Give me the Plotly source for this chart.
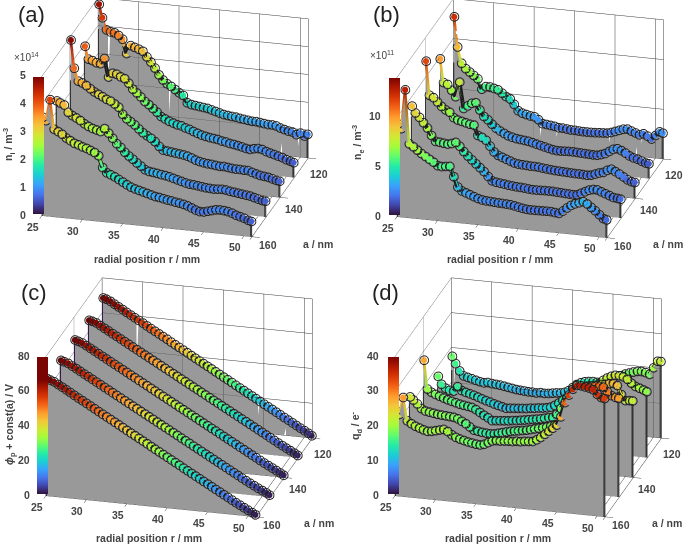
import math
import plotly.colors
import plotly.graph_objects as go

r_mm = [25.1, 25.5, 26.0,
        26.5, 27, 27.5, 28, 28.5, 29, 29.5, 30, 30.5, 31,
        31.5, 32, 32.5, 33, 33.5, 34, 34.5, 35, 35.5, 36,
        36.5, 37, 37.5, 38, 38.5, 39, 39.5, 40, 40.5, 41,
        41.5, 42, 42.5, 43, 43.5, 44, 44.5, 45, 45.5, 46,
        46.5, 47, 47.5, 48, 48.5, 49, 49.5, 50, 50.5, 50.9]
a_nm = [120, 130, 140, 150, 160]

ni_120 = [4.77, 4.30, 3.88,
          3.82, 3.80, 3.72, 3.60, 3.10, 3.40, 3.35, 3.30, 3.24, 3.05,
          2.88, 2.68, 2.45, 2.28, 2.16, 2.08, 1.98, 1.88, 1.80, 1.55,
          1.50, 1.48, 1.46, 1.44, 1.42, 1.38, 1.34, 1.30, 1.26, 1.24,
          1.22, 1.21, 1.18, 1.16, 1.14, 1.12, 1.12, 1.10, 1.08, 1.06,
          1.06, 1.04, 0.98, 0.94, 0.90, 0.88, 0.80, 0.87, 0.78, 0.85]
ni_130 = [3.97, 3.52, 3.48,
          3.42, 3.40, 3.60, 2.95, 3.10, 3.08, 3.00, 2.95, 2.80, 2.60,
          2.48, 2.35, 2.20, 2.10, 1.98, 1.86, 1.72, 1.65, 1.58, 1.53,
          1.48, 1.46, 1.40, 1.36, 1.30, 1.25, 1.20, 1.17, 1.14, 1.12,
          1.10, 1.06, 1.04, 1.00, 0.98, 0.95, 0.92, 0.88, 0.86, 0.90,
          0.92, 0.90, 0.84, 0.80, 0.76, 0.72, 0.68, 0.62, 0.58, 0.54]
ni_140 = [4.90, 3.90, 3.45,
          3.40, 3.32, 3.22, 3.12, 3.05, 2.98, 2.90, 2.85, 2.76, 2.66,
          2.42, 2.27, 2.18, 2.08, 1.95, 1.83, 1.74, 1.66, 1.55, 1.40,
          1.28, 1.26, 1.24, 1.22, 1.20, 1.18, 1.15, 1.10, 1.04, 1.00,
          0.97, 0.95, 0.94, 0.92, 0.90, 0.91, 0.89, 0.87, 0.86, 0.86,
          0.85, 0.85, 0.80, 0.76, 0.72, 0.70, 0.68, 0.64, 0.60, 0.58]
ni_150 = [3.42, 3.36, 3.30,
          3.05, 2.95, 2.88, 2.80, 2.70, 2.62, 2.56, 2.52, 2.48, 2.60,
          2.45, 2.28, 2.10, 1.98, 1.82, 1.70, 1.60, 1.48, 1.38, 1.27,
          1.22, 1.20, 1.18, 1.15, 1.13, 1.10, 1.06, 1.02, 0.98, 0.94,
          0.91, 0.90, 0.88, 0.86, 0.84, 0.83, 0.82, 0.83, 0.84, 0.83,
          0.80, 0.78, 0.76, 0.74, 0.72, 0.70, 0.66, 0.62, 0.58, 0.57]
ni_160 = [3.54, 3.43, 4.20,
          3.15, 3.08, 3.00, 2.88, 2.80, 2.72, 2.68, 2.62, 2.58, 2.52,
          2.46, 2.36, 1.95, 1.78, 1.72, 1.66, 1.58, 1.50, 1.42, 1.35,
          1.30, 1.26, 1.22, 1.18, 1.14, 1.10, 1.08, 1.05, 1.02, 1.00,
          0.97, 0.95, 0.92, 0.88, 0.82, 0.76, 0.72, 0.72, 0.76, 0.80,
          0.84, 0.85, 0.84, 0.82, 0.78, 0.72, 0.68, 0.64, 0.58, 0.55]

ne_120 = [12.2, 9.2, 7.6,
          7.1, 6.8, 6.5, 6.2, 5.2, 5.5, 5.5, 5.4, 5.3, 5.0,
          4.7, 4.5, 4.0, 3.4, 3.2, 3.1, 3.0, 2.95, 2.7, 2.35,
          2.3, 2.25, 2.2, 2.1, 2.1, 2.05, 2.0, 2.0, 1.97, 1.95,
          1.95, 1.95, 1.97, 2.0, 2.02, 2.05, 2.15, 2.3, 2.45, 2.6,
          2.65, 2.5, 2.35, 2.2, 2.35, 2.15, 1.9, 2.3, 2.7, 2.6]
ne_130 = [9.95, 7.6, 7.45,
          6.9, 6.3, 7.8, 5.2, 5.5, 5.8, 5.9, 5.2, 4.6, 4.3,
          3.9, 3.55, 3.3, 3.1, 2.9, 2.8, 2.7, 2.65, 2.6, 2.55,
          2.45, 2.35, 2.25, 2.15, 2.05, 1.95, 1.9, 1.9, 1.92, 1.94,
          1.94, 1.92, 1.9, 1.88, 1.86, 1.84, 1.84, 1.95, 2.1, 2.35,
          2.6, 2.7, 2.55, 2.35, 2.1, 1.95, 1.85, 1.7, 1.55, 1.5]
ne_140 = [11.7, 8.3, 8.1,
          7.7, 7.3, 7.0, 6.8, 6.3, 6.1, 6.0, 5.9, 5.8, 5.75,
          4.75, 4.6, 4.35, 3.8, 3.25, 2.95, 2.8, 2.65, 2.5, 2.35,
          2.28, 2.25, 2.23, 2.2, 2.2, 2.18, 2.12, 2.08, 2.04, 2.0,
          1.98, 1.96, 1.94, 1.92, 1.9, 1.9, 1.88, 1.85, 1.9, 2.05,
          2.2, 2.3, 2.55, 2.7, 2.5, 2.3, 2.05, 1.8, 1.65, 1.6]
ne_150 = [9.16, 8.5, 8.1,
          7.6, 7.1, 6.4, 5.85, 5.8, 5.75, 5.7, 5.8, 5.95, 5.6,
          5.1, 4.7, 4.35, 4.0, 3.65, 3.3, 2.85, 2.45, 2.35, 2.3,
          2.25, 2.18, 2.14, 2.1, 2.08, 2.05, 2.0, 1.97, 1.97, 1.98,
          2.0, 2.0, 2.0, 1.97, 1.95, 1.92, 1.9, 1.87, 1.9, 2.1,
          2.3, 2.5, 2.6, 2.6, 2.45, 2.3, 2.15, 2.0, 1.95, 1.9]
ne_160 = [9.35, 8.9, 12.85,
          7.45, 7.2, 6.9, 6.6, 6.35, 6.1, 5.85, 5.55, 5.5, 5.55,
          5.6, 4.6, 3.6, 3.25, 3.1, 2.95, 2.8, 2.65, 2.55, 2.5,
          2.48, 2.45, 2.42, 2.4, 2.38, 2.35, 2.28, 2.2, 2.12, 2.06,
          2.04, 2.04, 2.05, 2.06, 2.07, 2.07, 2.02, 1.97, 2.25, 2.6,
          2.9, 3.1, 3.25, 3.4, 3.2, 2.9, 2.6, 2.25, 1.9, 1.8]

phi_120 = [68.5, 68.0, 67.0,
           65.6, 64.3, 63.0, 61.6, 60.3, 59.0, 57.7, 56.4, 55.0, 53.7,
           52.4, 51.1, 49.8, 48.5, 47.1, 45.8, 44.5, 43.2, 41.9, 40.5,
           39.2, 37.9, 36.6, 35.3, 34.0, 32.6, 31.3, 30.0, 28.7, 27.4,
           26.0, 24.7, 23.4, 22.1, 20.8, 19.5, 18.1, 16.8, 15.5, 14.2,
           12.9, 11.6, 10.3, 9.0, 7.7, 6.4, 5.1, 3.9, 2.6, 1.4]
phi_130 = [67.0, 66.6, 65.9,
           64.6, 63.3, 62.0, 60.7, 59.4, 58.1, 56.8, 55.5, 54.2, 52.9,
           51.6, 50.3, 49.0, 47.7, 46.4, 45.1, 43.8, 42.5, 41.2, 39.9,
           38.6, 37.3, 36.0, 34.7, 33.4, 32.1, 30.8, 29.5, 28.2, 26.9,
           25.6, 24.3, 23.0, 21.7, 20.4, 19.1, 17.8, 16.5, 15.2, 13.9,
           12.6, 11.3, 10.0, 8.7, 7.4, 6.1, 4.9, 3.7, 2.5, 1.4]
phi_140 = [67.0, 66.4, 65.7,
           64.4, 63.1, 61.8, 60.5, 59.2, 57.9, 56.6, 55.3, 54.0, 52.7,
           51.4, 50.1, 48.8, 47.5, 46.2, 44.9, 43.6, 42.3, 41.0, 39.7,
           38.4, 37.1, 35.8, 34.5, 33.2, 31.9, 30.6, 29.3, 28.0, 26.7,
           25.4, 24.1, 22.8, 21.5, 20.2, 18.9, 17.6, 16.3, 15.0, 13.7,
           12.4, 11.1, 9.8, 8.5, 7.2, 6.0, 4.8, 3.6, 2.4, 1.3]
phi_150 = [66.6, 66.0, 65.3,
           64.0, 62.7, 61.4, 60.1, 58.8, 57.5, 56.2, 54.9, 53.6, 52.3,
           51.0, 49.7, 48.4, 47.1, 45.8, 44.5, 43.2, 41.9, 40.6, 39.3,
           38.0, 36.7, 35.4, 34.1, 32.8, 31.5, 30.2, 28.9, 27.6, 26.3,
           25.0, 23.7, 22.4, 21.1, 19.8, 18.5, 17.2, 15.9, 14.6, 13.3,
           12.0, 10.7, 9.4, 8.1, 6.9, 5.7, 4.5, 3.4, 2.3, 1.2]
phi_160 = [67.5, 66.8, 66.0,
           64.7, 63.4, 62.1, 60.8, 59.4, 58.1, 56.8, 55.5, 54.2, 52.9,
           51.5, 50.2, 48.9, 47.6, 46.3, 45.0, 43.7, 42.3, 41.0, 39.7,
           38.4, 37.1, 35.8, 34.4, 33.1, 31.8, 30.5, 29.2, 27.9, 26.6,
           25.3, 23.9, 22.6, 21.3, 20.0, 18.7, 17.4, 16.1, 14.8, 13.5,
           12.2, 10.9, 9.6, 8.3, 7.0, 5.8, 4.6, 3.4, 2.2, 1.2]

qd_120 = [17.5, 15.5, 13.5,
          12.2, 11.9, 11.6, 11.3, 11.0, 10.8, 11.0, 10.8, 10.7, 10.6,
          10.4, 10.2, 10.0, 9.8, 9.7, 9.6, 9.5, 9.5, 9.4, 9.6,
          9.5, 9.6, 9.8, 10.0, 10.1, 10.4, 11.0, 12.0, 13.0, 13.6,
          14.0, 14.2, 14.3, 14.2, 14.0, 14.0, 14.2, 15.0, 16.0, 16.8,
          17.4, 17.8, 18.2, 18.5, 18.6, 18.4, 18.0, 20.0, 22.0, 22.0]
qd_130 = [17.4, 15.2, 14.2,
          13.7, 13.6, 15.0, 14.0, 13.6, 13.3, 13.0, 12.6, 12.2, 11.8,
          11.5, 11.1, 10.8, 10.5, 10.2, 10.3, 10.4, 10.5, 10.6, 10.7,
          10.9, 11.0, 11.2, 11.3, 11.5, 11.8, 12.4, 13.2, 14.2, 15.0,
          15.5, 15.8, 16.0, 16.5, 17.2, 18.0, 19.0, 20.0, 21.0, 21.8,
          22.4, 22.8, 22.8, 22.6, 22.0, 21.0, 20.2, 19.8, 19.4, 19.0]
qd_140 = [27.7, 19.5, 18.7,
          18.2, 17.8, 17.4, 17.0, 16.7, 16.4, 16.1, 15.9, 15.7, 15.5,
          15.0, 14.3, 13.6, 13.0, 12.3, 12.4, 12.5, 12.6, 12.7, 12.9,
          13.0, 13.2, 13.4, 13.6, 13.8, 14.0, 14.2, 14.5, 14.8, 15.0,
          16.0, 17.8, 19.0, 20.0, 21.0, 22.0, 23.0, 24.0, 24.8, 25.2,
          25.5, 25.8, 26.0, 26.3, 26.5, 26.0, 23.5, 21.9, 22.0, 22.0]
qd_150 = [22.8, 22.0, 21.0,
          19.8, 19.2, 19.0, 18.8, 18.6, 18.5, 18.4, 18.3, 18.2, 17.9,
          17.3, 16.7, 15.9, 15.1, 14.9, 14.7, 14.6, 14.5, 14.6, 14.9,
          15.2, 15.5, 15.8, 16.0, 16.2, 16.4, 16.6, 16.9, 17.2, 17.5,
          17.8, 18.1, 18.5, 19.0, 19.3, 21.0, 23.5, 26.0, 28.0, 29.5,
          30.5, 31.0, 31.2, 31.3, 31.3, 31.2, 30.0, 29.0, 28.6, 28.4]
qd_160 = [24.5, 23.5, 28.5,
          21.9, 21.2, 20.6, 20.2, 19.8, 19.5, 19.6, 19.9, 20.2, 20.5,
          20.0, 19.2, 18.6, 18.2, 17.9, 17.6, 17.4, 17.2, 17.1, 17.4,
          18.0, 18.6, 18.8, 18.8, 18.9, 19.0, 19.0, 19.2, 19.2, 19.4,
          19.5, 19.6, 20.2, 21.0, 22.0, 23.0, 24.0, 25.0, 27.5, 31.7,
          34.0, 35.8, 37.0, 37.0, 36.8, 36.6, 36.2, 35.0, 34.2, 34.0]

r_ticks = [25, 30, 35, 40, 45, 50]
a_ticks = [120, 140, 160]
r_range = [25, 51]
a_range = [160, 120]

AZ = math.radians(15)
EL = math.radians(22)
EYE_DIST = 2.0
PX_PER_UNIT = 134.0
ZOOM = 1.6

TURBO = plotly.colors.sequential.Turbo


def turbo_saturating(top):
    """Turbo reaching its last colour at fraction `top`, then staying there."""
    last = len(TURBO) - 1
    return [[top * i / last, c] for i, c in enumerate(TURBO)] + [[1, TURBO[-1]]]


panels = [
    dict(name="scene", series=[ni_120, ni_130, ni_140, ni_150, ni_160], zmax=5, cscale=turbo_saturating(1.0)[:-1],
         zticks=[0, 1, 2, 3, 4, 5], zgrid=[0, 1, 2, 3, 4, 5], stem="#333333",
         box=(0, 0, 342, 272), pan=(4, -18.5), bar=(33, 214), letter="(a)", letter_xy=(31, 14),
         ylabel="n<sub>i</sub> / m<sup>-3</sup>", ylabel_xy=(9, 145),
         expo="×10<sup>14</sup>", expo_xy=(26, 57),
         rt_xy=(147, 259), at_xy=(318, 244)),
    dict(name="scene2", series=[ne_120, ne_130, ne_140, ne_150, ne_160], zmax=14, cscale=turbo_saturating(1.0)[:-1],
         zticks=[0, 5, 10], zgrid=[0, 5, 10, 14], stem="#333333",
         box=(343, 0, 342, 272), pan=(16, -17.5), bar=(389, 215), letter="(b)", letter_xy=(387, 14),
         ylabel="n<sub>e</sub> / m<sup>-3</sup>", ylabel_xy=(358, 143),
         expo="×10<sup>11</sup>", expo_xy=(382, 55),
         rt_xy=(500, 259), at_xy=(668, 244)),
    dict(name="scene3", series=[phi_120, phi_130, phi_140, phi_150, phi_160], zmax=80, cscale=turbo_saturating(0.83),
         zticks=[0, 20, 40, 60, 80], zgrid=[0, 20, 40, 60, 80], stem="#33194f",
         box=(0, 272, 342, 272), pan=(8, -10.5), bar=(37, 494), letter="(c)", letter_xy=(34, 292),
         ylabel="<i>ϕ</i><sub>p</sub> + const(a) / V", ylabel_xy=(10, 425),
         expo=None, expo_xy=None,
         rt_xy=(149, 538), at_xy=(319, 523)),
    dict(name="scene4", series=[qd_120, qd_130, qd_140, qd_150, qd_160], zmax=40, cscale=turbo_saturating(1.0)[:-1],
         zticks=[0, 10, 20, 30, 40], zgrid=[0, 10, 20, 30, 40], stem="#333333",
         box=(343, 272, 342, 272), pan=(14, -10.5), bar=(388, 494), letter="(d)", letter_xy=(385, 292),
         ylabel="q<sub>d</sub> / e<sup>-</sup>", ylabel_xy=(356, 426),
         expo=None, expo_xy=None,
         rt_xy=(498, 538), at_xy=(667, 523)),
]

W, H = 685, 544
TICK = dict(family="Liberation Sans", size=10.5, color="#444444", weight="bold")
A_LABEL_SHIFT = {120: (11, -16), 140: (14, -12), 160: (16, -8)}
fig = go.Figure()
paper_notes = []


def note(text, xy, font, angle=0):
    paper_notes.append(dict(text=text, x=xy[0] / W, y=1 - xy[1] / H, xref="paper", yref="paper",
                            showarrow=False, font=font, textangle=angle,
                            xanchor="center", yanchor="middle"))


def view(pan):
    """Camera for a pan of (right, down) pixels from the centred view."""
    sa, ca, se, ce = math.sin(AZ), math.cos(AZ), math.sin(EL), math.cos(EL)
    right = (ca, sa, 0.0)
    up = (-sa * se, ca * se, ce)
    back = (sa * ce, -ca * ce, se)
    dx, dy = pan[0] / PX_PER_UNIT, pan[1] / PX_PER_UNIT
    center = [-dx * right[i] + dy * up[i] for i in range(3)]
    eye = [center[i] + EYE_DIST * back[i] for i in range(3)]
    return dict(projection=dict(type="orthographic"), up=dict(x=0, y=0, z=1),
                center=dict(x=center[0], y=center[1], z=center[2]),
                eye=dict(x=eye[0], y=eye[1], z=eye[2]))


for p in panels:
    zmax = p["zmax"]
    n = len(r_mm)
    for a, z in zip(a_nm, p["series"]):
        xs = list(r_mm) + list(r_mm)
        ys = [a] * (2 * n)
        zs = list(z) + [0] * n
        ii, jj, kk = [], [], []
        for t in range(n - 1):
            ii += [t, t + 1]
            jj += [t + 1, t + 1 + n]
            kk += [t + n, t + n]
        fig.add_trace(go.Mesh3d(x=xs, y=ys, z=zs, i=ii, j=jj, k=kk, color="#999999", flatshading=True,
                                lighting=dict(ambient=1, diffuse=0, specular=0, fresnel=0,
                                              facenormalsepsilon=0, vertexnormalsepsilon=0),
                                hoverinfo="skip", scene=p["name"], showscale=False))
        for sx, top in ((r_mm[0], min(z[:3])), (r_mm[-1], z[-1])):
            fig.add_trace(go.Scatter3d(x=[sx, sx], y=[a, a], z=[0, top], mode="lines",
                                       line=dict(color=p["stem"], width=4), hoverinfo="skip",
                                       showlegend=False, scene=p["name"]))
    for idx, (a, z) in enumerate(zip(a_nm, p["series"])):
        marker = dict(size=3.6, color=z, colorscale=p["cscale"], cmin=0, cmax=zmax, opacity=1)
        if idx == 0:
            marker.update(showscale=True, colorbar=dict(
                x=p["bar"][0] / W, xanchor="left", y=1 - p["bar"][1] / H, yanchor="bottom",
                len=137, lenmode="pixels", thickness=11, thicknessmode="pixels",
                xpad=0, ypad=0, outlinewidth=0, borderwidth=0, ticks="", showticklabels=False))
        fig.add_trace(go.Scatter3d(x=r_mm[3:], y=[a] * (n - 3), z=z[3:], mode="lines",
                                   line=dict(color="#1c1c1c", width=8),
                                   hoverinfo="skip", showlegend=False, scene=p["name"]))
        fig.add_trace(go.Scatter3d(x=r_mm, y=[a] * n, z=z, mode="markers",
                                   marker=dict(size=5.5, symbol="circle-open", color="#222222"),
                                   hoverinfo="skip", showlegend=False, scene=p["name"]))
        fig.add_trace(go.Scatter3d(x=r_mm, y=[a] * n, z=z, mode="lines+markers",
                                   line=dict(color=z, colorscale=p["cscale"], cmin=0, cmax=zmax, width=5),
                                   marker=marker, hoverinfo="skip", showlegend=False, scene=p["name"]))

    scene_notes = []
    for v in r_ticks:
        scene_notes.append(dict(x=v, y=a_ticks[-1], z=0, text=str(v), showarrow=False, font=TICK,
                                xshift=-9, yshift=-11.5))
    for v in a_ticks:
        scene_notes.append(dict(x=r_range[1], y=v, z=0, text=str(v), showarrow=False, font=TICK,
                                xshift=A_LABEL_SHIFT[v][0], yshift=A_LABEL_SHIFT[v][1]))
    for v in p["zticks"]:
        scene_notes.append(dict(x=r_range[0], y=a_ticks[-1], z=v, text=str(v), showarrow=False, font=TICK,
                                xanchor="right", xshift=-14, yshift=1))
    bx, by, bw, bh = p["box"]
    axis_common = dict(showbackground=False, showticklabels=False, title=dict(text=""), showspikes=False,
                       gridcolor="#3a3a3a", gridwidth=1, zeroline=False, showline=False,
                       ticks="outside", ticklen=8, tickcolor="#333333", tickwidth=1)
    fig.update_layout({p["name"]: dict(
        domain=dict(x=[bx / W, (bx + bw) / W], y=[1 - (by + bh) / H, 1 - by / H]),
        bgcolor="white", dragmode=False,
        aspectmode="manual", aspectratio=dict(x=ZOOM, y=ZOOM, z=0.69 * ZOOM),
        camera=view(p["pan"]),
        xaxis=dict(range=r_range, tickmode="array", tickvals=r_ticks + [r_range[1]], **axis_common),
        yaxis=dict(range=a_range, tickmode="array", tickvals=a_ticks, **axis_common),
        zaxis=dict(range=[0, zmax], tickmode="array", tickvals=p["zgrid"], **axis_common),
        annotations=scene_notes)})

    bold = dict(family="Liberation Sans", size=10.5, color="#444444", weight="bold")
    note("radial position r / mm", p["rt_xy"], bold)
    note("a / nm", p["at_xy"], bold)
    note(p["ylabel"], p["ylabel_xy"], bold, angle=-90)
    note(p["letter"], p["letter_xy"], dict(family="Liberation Sans", size=22, color="#222222"))
    if p["expo"]:
        note(p["expo"], p["expo_xy"], dict(family="Liberation Sans", size=10, color="#444444"))

fig.update_layout(width=W, height=H, margin=dict(l=0, r=0, t=0, b=0, autoexpand=False),
                  paper_bgcolor="white", showlegend=False, hovermode=False, annotations=paper_notes)
fig.write_html("out.html", post_script="document.body.style.margin='0';",
               config=dict(displayModeBar=False))
